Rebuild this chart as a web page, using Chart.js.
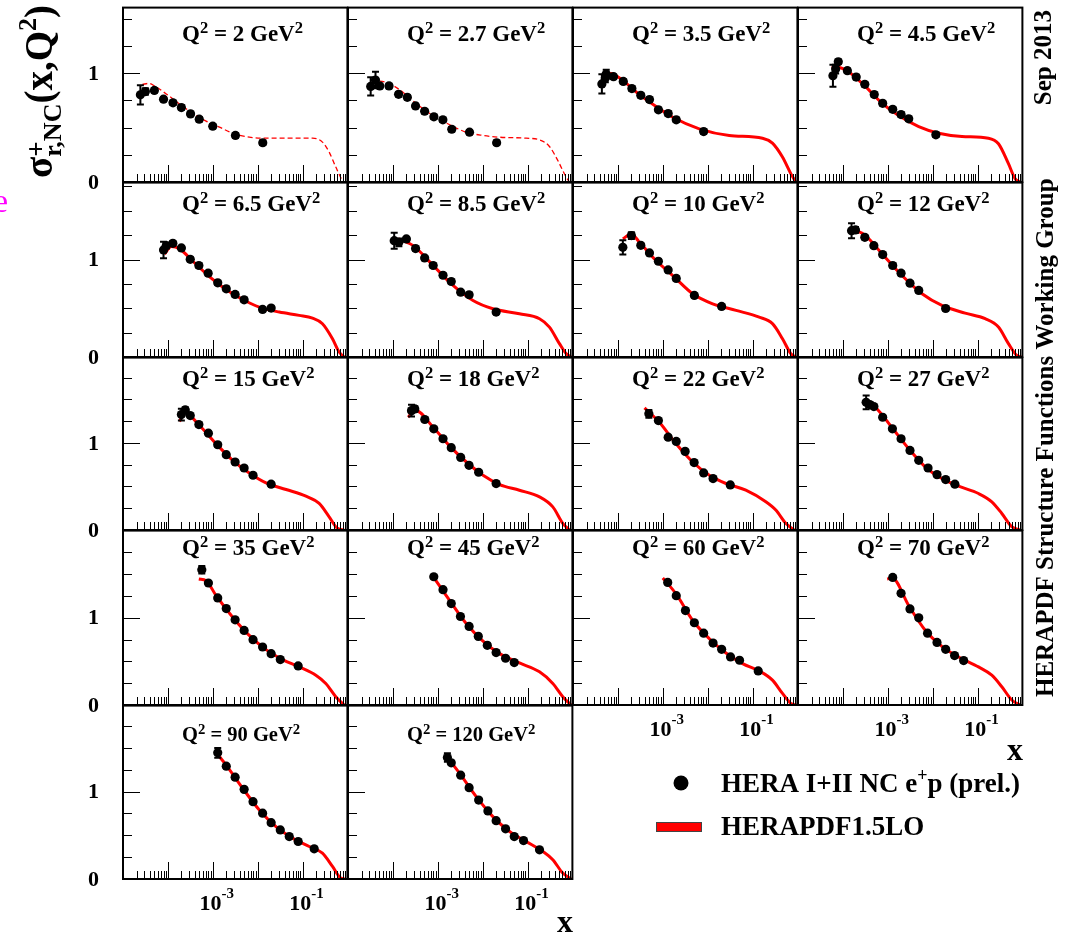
<!DOCTYPE html>
<html><head><meta charset="utf-8">
<script src="https://cdn.jsdelivr.net/npm/chart.js@4.4.0/dist/chart.umd.min.js"></script>
<style>
html,body{margin:0;padding:0;background:#fff;}
#wrap{position:relative;width:1066px;height:933px;overflow:hidden;background:#fff;}
#wrap canvas{position:absolute;}
</style></head><body><div id="wrap"></div>
<script>
// ---------------- DATA ----------------
const Q2_LABELS = ['2','2.7','3.5','4.5','6.5','8.5','10','12','15','18','22','27','35','45','60','70','90','120'];
const DASHED_PANELS = [0, 1];

const DATA_X = [
  [2.44e-5,3.15e-5,5.0e-5,8.0e-5,1.3e-4,2.0e-4,3.2e-4,5.0e-4,1.0e-3,3.2e-3,1.3e-2],
  [3.2e-5,4.1e-5,5.1e-5,8.2e-5,1.34e-4,2.1e-4,3.2e-4,5.1e-4,8.2e-4,1.3e-3,2.05e-3,5.1e-3,2.05e-2],
  [4.4e-5,5.25e-5,5.5e-5,8.0e-5,1.32e-4,2.05e-4,3.24e-4,5.06e-4,8.0e-4,1.32e-3,2.0e-3,8.15e-3],
  [6.0e-5,6.9e-5,7.9e-5,1.26e-4,1.98e-4,3.08e-4,5.0e-4,7.7e-4,1.29e-3,1.98e-3,2.93e-3,1.18e-2],
  [8.0e-5,9.2e-5,1.29e-4,2.0e-4,3.15e-4,4.9e-4,7.9e-4,1.29e-3,2.0e-3,3.15e-3,5.0e-3,1.29e-2,2.0e-2],
  [1.07e-4,1.36e-4,2.0e-4,3.2e-4,5.1e-4,7.9e-4,1.31e-3,2.0e-3,3.24e-3,5.0e-3,2.0e-2],
  [1.29e-4,2.0e-4,3.24e-4,5.06e-4,8.0e-4,1.32e-3,2.0e-3,5.06e-3,2.05e-2],
  [1.56e-4,1.91e-4,3.08e-4,4.9e-4,7.7e-4,1.29e-3,1.98e-3,3.13e-3,4.9e-3,1.95e-2],
  [2.0e-4,2.44e-4,3.15e-4,4.9e-4,8.0e-4,1.29e-3,2.0e-3,3.15e-3,5.0e-3,7.9e-3,2.0e-2],
  [2.6e-4,3.08e-4,5.14e-4,8.15e-4,1.31e-3,2.0e-3,3.24e-3,4.97e-3,8.15e-3,2.0e-2],
  [4.9e-4,8.0e-4,1.32e-3,2.0e-3,3.15e-3,5.0e-3,8.15e-3,1.32e-2,3.2e-2],
  [3.3e-4,3.98e-4,4.9e-4,7.7e-4,1.27e-3,1.98e-3,3.13e-3,4.9e-3,7.9e-3,1.25e-2,1.95e-2,3.13e-2],
  [5.7e-4,8.0e-4,1.29e-3,2.0e-3,3.15e-3,5.0e-3,7.9e-3,1.29e-2,2.0e-2,3.2e-2,8.0e-2],
  [8.15e-4,1.31e-3,2.0e-3,3.2e-3,5.0e-3,8.0e-3,1.27e-2,2.0e-2,3.24e-2,5.06e-2],
  [1.29e-3,2.0e-3,3.2e-3,5.06e-3,8.15e-3,1.32e-2,2.05e-2,3.24e-2,5.14e-2,0.134],
  [1.29e-3,1.98e-3,3.13e-3,4.9e-3,7.7e-3,1.25e-2,1.95e-2,3.08e-2,4.9e-2],
  [1.29e-3,2.0e-3,3.15e-3,5.0e-3,7.9e-3,1.29e-2,2.0e-2,3.2e-2,5.06e-2,8.0e-2,0.182],
  [1.64e-3,2.0e-3,3.24e-3,5.0e-3,8.15e-3,1.31e-2,2.0e-2,3.24e-2,5.06e-2,8.15e-2,0.185]
];
const DATA_Y = [
  [0.80,0.83,0.84,0.76,0.726,0.683,0.625,0.576,0.512,0.427,0.36],
  [0.877,0.936,0.881,0.881,0.804,0.777,0.698,0.649,0.598,0.570,0.484,0.457,0.360],
  [0.90,0.954,0.99,0.966,0.923,0.857,0.795,0.756,0.662,0.628,0.57,0.463],
  [0.975,1.036,1.103,1.021,0.963,0.896,0.802,0.722,0.667,0.619,0.58,0.433],
  [1.099,1.143,1.167,1.12,1.003,0.939,0.86,0.761,0.70,0.642,0.587,0.488,0.502],
  [1.194,1.177,1.212,1.113,1.017,0.939,0.839,0.775,0.665,0.639,0.461],
  [1.126,1.246,1.146,1.068,0.983,0.894,0.806,0.632,0.519],
  [1.297,1.304,1.228,1.143,1.051,0.939,0.86,0.758,0.683,0.498],
  [1.326,1.379,1.314,1.211,1.112,0.979,0.865,0.781,0.712,0.629,0.526],
  [1.371,1.39,1.269,1.162,1.048,0.945,0.834,0.743,0.663,0.533],
  [1.334,1.257,1.066,1.017,0.903,0.774,0.655,0.591,0.518],
  [1.466,1.44,1.417,1.295,1.162,1.048,0.914,0.80,0.712,0.636,0.579,0.526],
  [1.551,1.399,1.228,1.106,0.977,0.855,0.749,0.665,0.589,0.521,0.448],
  [1.471,1.323,1.163,1.015,0.901,0.787,0.684,0.601,0.536,0.487],
  [1.406,1.254,1.083,0.943,0.824,0.71,0.639,0.551,0.513,0.391],
  [1.463,1.281,1.102,1.0,0.824,0.718,0.639,0.567,0.509],
  [1.444,1.292,1.166,1.026,0.885,0.753,0.645,0.562,0.486,0.429,0.345],
  [1.391,1.33,1.189,1.045,0.904,0.779,0.668,0.574,0.486,0.44,0.334]
];
const DATA_ERR = [
  [0.088,0.03,0.02,0.02,0.02,0.02,0.02,0.02,0.02,0.02,0.02],
  [0.084,0.076,0.02,0.02,0.02,0.02,0.02,0.02,0.02,0.02,0.02,0.02,0.02],
  [0.088,0.04,0.04,0.02,0.02,0.02,0.02,0.02,0.02,0.02,0.02,0.02],
  [0.10,0.04,0.02,0.02,0.02,0.02,0.02,0.02,0.02,0.02,0.02,0.02],
  [0.085,0.03,0.02,0.02,0.02,0.02,0.02,0.02,0.02,0.02,0.02,0.02,0.02],
  [0.082,0.04,0.02,0.02,0.02,0.02,0.02,0.02,0.02,0.02,0.02],
  [0.073,0.034,0.02,0.02,0.02,0.02,0.02,0.02,0.02],
  [0.077,0.03,0.02,0.02,0.02,0.02,0.02,0.02,0.02,0.02],
  [0.067,0.03,0.02,0.02,0.02,0.02,0.02,0.02,0.02,0.02,0.02],
  [0.067,0.03,0.02,0.02,0.02,0.02,0.02,0.02,0.02,0.02],
  [0.044,0.02,0.02,0.02,0.02,0.02,0.02,0.02,0.02],
  [0.08,0.03,0.02,0.02,0.02,0.02,0.02,0.02,0.02,0.02,0.02,0.02],
  [0.044,0.02,0.02,0.02,0.02,0.02,0.02,0.02,0.02,0.02,0.02],
  [0.02,0.02,0.02,0.02,0.02,0.02,0.02,0.02,0.02,0.02],
  [0.02,0.02,0.02,0.02,0.02,0.02,0.02,0.02,0.02,0.02],
  [0.02,0.02,0.02,0.02,0.02,0.02,0.02,0.02,0.02],
  [0.057,0.02,0.02,0.02,0.02,0.02,0.02,0.02,0.02,0.02,0.02],
  [0.048,0.02,0.02,0.02,0.02,0.02,0.02,0.02,0.02,0.02,0.02]
];
// HERAPDF1.5LO curves
const CURVE_X = [
  [2.7e-5,3.8e-5,5.1e-5,9.2e-5,1.82e-4,3.6e-4,7.1e-4,1.41e-3,2.78e-3,6.5e-3,1.54e-2,5.1e-2,0.167,0.278,0.392,0.552,0.774,0.87],
  [3.36e-5,7.2e-5,1.43e-4,3.36e-4,7.9e-4,1.85e-3,4.3e-3,1.02e-2,2.39e-2,9.3e-2,0.185,0.308,0.472,0.723,0.857],
  [4.27e-5,7.1e-5,1.29e-4,3.03e-4,7.1e-4,1.67e-3,6.5e-3,3.03e-2,0.167,0.278,0.465,0.713,0.92],
  [5.6e-5,8.15e-5,1.29e-4,3.03e-4,7.1e-4,1.75e-3,4.9e-3,1.36e-2,4.5e-2,0.175,0.293,0.489,0.687,0.887],
  [8.45e-5,1.19e-4,1.82e-4,3.6e-4,8.4e-4,1.98e-3,4.65e-3,1.09e-2,3.03e-2,8.4e-2,0.167,0.278,0.465,0.655,0.845],
  [1.32e-4,2.83e-4,7.9e-4,2.19e-3,6.1e-3,1.69e-2,6.6e-2,0.185,0.308,0.514,0.723,0.933],
  [1.29e-4,1.99e-4,3.03e-4,7.1e-4,1.67e-3,4.65e-3,1.29e-2,4.3e-2,0.141,0.278,0.465,0.713,0.92],
  [1.48e-4,3.19e-4,7.5e-4,2.08e-3,5.8e-3,1.61e-2,5.3e-2,0.148,0.293,0.489,0.748,0.966],
  [1.82e-4,2.35e-4,5.06e-4,1.19e-3,2.78e-3,6.5e-3,1.54e-2,4.3e-2,0.119,0.235,0.392,0.6,0.845],
  [2.19e-4,3.08e-4,7.9e-4,1.85e-3,4.34e-3,1.02e-2,2.39e-2,6.6e-2,0.185,0.366,0.61,0.857],
  [3.92e-4,8.4e-4,1.98e-3,4.65e-3,1.09e-2,2.56e-2,7.1e-2,0.198,0.33,0.55,0.843],
  [2.93e-4,5.3e-4,1.25e-3,2.93e-3,6.9e-3,1.61e-2,3.78e-2,0.105,0.208,0.348,0.579,0.889],
  [4.89e-4,7.1e-4,1.19e-3,2.78e-3,6.5e-3,1.54e-2,3.6e-2,8.4e-2,0.198,0.33,0.55,0.845],
  [7.5e-4,1.85e-3,4.34e-3,1.02e-2,2.39e-2,6.6e-2,0.185,0.366,0.61,0.933],
  [1.0e-3,1.98e-3,4.65e-3,1.09e-2,2.56e-2,6.0e-2,0.141,0.278,0.465,0.713,0.95],
  [9.7e-4,1.25e-3,2.93e-3,6.9e-3,1.61e-2,3.78e-2,0.105,0.208,0.348,0.579,0.889],
  [1.23e-3,1.99e-3,4.65e-3,1.09e-2,2.56e-2,6.0e-2,0.141,0.278,0.465,0.713,0.92],
  [1.56e-3,3.08e-3,7.2e-3,1.69e-2,3.98e-2,9.3e-2,0.219,0.366,0.61,0.933]
];
const CURVE_Y = [
  [0.895,0.905,0.88,0.808,0.716,0.63,0.558,0.503,0.448,0.411,0.402,0.402,0.402,0.366,0.274,0.137,0.015,0],
  [0.93,0.914,0.845,0.717,0.61,0.525,0.457,0.427,0.411,0.402,0.387,0.326,0.198,0.046,0],
  [0.966,0.996,0.93,0.802,0.692,0.594,0.488,0.427,0.402,0.357,0.229,0.077,0],
  [1.051,1.051,1.015,0.884,0.731,0.61,0.509,0.448,0.418,0.402,0.351,0.168,0.031,0],
  [1.058,1.133,1.11,0.983,0.826,0.693,0.59,0.512,0.461,0.427,0.399,0.342,0.188,0.051,0],
  [1.212,1.143,0.939,0.734,0.58,0.495,0.444,0.393,0.307,0.137,0.035,0],
  [1.212,1.263,1.177,0.99,0.836,0.649,0.546,0.478,0.409,0.342,0.188,0.035,0],
  [1.324,1.246,1.058,0.836,0.649,0.529,0.45,0.393,0.307,0.137,0.017,0],
  [1.246,1.352,1.2,0.99,0.8,0.655,0.541,0.465,0.389,0.305,0.152,0.019,0],
  [1.295,1.379,1.181,0.963,0.781,0.629,0.522,0.457,0.381,0.266,0.077,0],
  [1.402,1.238,0.99,0.781,0.629,0.534,0.457,0.324,0.229,0.077,0],
  [1.486,1.409,1.174,0.934,0.723,0.591,0.503,0.419,0.324,0.19,0.038,0],
  [1.445,1.425,1.254,1.007,0.798,0.635,0.521,0.437,0.342,0.247,0.095,0],
  [1.49,1.197,0.932,0.733,0.589,0.482,0.38,0.247,0.095,0],
  [1.456,1.274,0.969,0.76,0.597,0.475,0.391,0.285,0.133,0.019,0],
  [1.445,1.456,1.14,0.855,0.673,0.551,0.437,0.342,0.209,0.057,0],
  [1.437,1.303,1.038,0.79,0.60,0.468,0.372,0.296,0.144,0.011,0],
  [1.406,1.209,0.942,0.714,0.543,0.429,0.315,0.22,0.068,0]
];
const Y_TICK_LABELS = [0, 1];
const X_TICK_LABELS = [1e-3, 1e-1];
const X_TICK_TEXT = [['10','-3'], ['10','-1']];
const ROW_YMAX = [1.6, 1.79, 1.98, 2.0, 1.985];

// ---------------- LAYOUT ----------------
const COL_LEFT = [123, 348, 573, 798];
const ROW_TOP = [7, 182, 357, 530, 705];
const ROW_BOTTOM = [182, 357, 530, 705, 879];
const PANEL_W = 225;
const TITLE_SIZE = [23, 23, 23, 23, 20.5];
const TITLE_BASE = [33, 28.5, 28.5, 24.5, 35];
const ML = 45, MR = 4, MT = 4, MB = 44;
const FONT = '"Liberation Serif","Times New Roman",Times,serif';
function fnt(sz){ return 'bold ' + sz + 'px ' + FONT; }

function richWidth(ctx, parts){
  let w = 0;
  for (const p of parts){ if (p.stack) continue; ctx.font = fnt(p.size); w += ctx.measureText(p.text).width; }
  return w;
}
function drawRich(ctx, parts, x, y, align){
  const w = richWidth(ctx, parts);
  let cx = align === 'center' ? x - w/2 : (align === 'right' ? x - w : x);
  ctx.textAlign = 'left'; ctx.textBaseline = 'alphabetic';
  for (const p of parts){
    ctx.font = fnt(p.size);
    ctx.fillStyle = p.color || '#000';
    ctx.fillText(p.text, cx, y + (p.dy || 0));
    if (!p.stack) cx += ctx.measureText(p.text).width;
  }
}

const wrap = document.getElementById('wrap');

function lastRowOfCol(c){ return c < 2 ? 4 : 3; }

for (let i = 0; i < Q2_LABELS.length; i++){
  const row = Math.floor(i / 4), col = i % 4;
  const left = COL_LEFT[col], top = ROW_TOP[row], h = ROW_BOTTOM[row] - ROW_TOP[row];
  const cv = document.createElement('canvas');
  cv.width = PANEL_W + ML + MR; cv.height = h + MT + MB;
  cv.style.left = (left - ML) + 'px'; cv.style.top = (top - MT) + 'px';
  cv.style.width = cv.width + 'px'; cv.style.height = cv.height + 'px';
  wrap.appendChild(cv);

  const pts = DATA_X[i].map((x, j) => ({x: x, y: DATA_Y[i][j]}));
  const cur = CURVE_X[i].map((x, j) => ({x: x, y: CURVE_Y[i][j]}));
  const dashed = DASHED_PANELS.includes(i);
  const errs = DATA_ERR[i];

  const panelPlugin = {
    id: 'panel' + i,
    afterDatasetsDraw(chart){
      const ctx = chart.ctx, ys = chart.scales.y;
      const meta = chart.getDatasetMeta(0);
      ctx.save();
      ctx.strokeStyle = '#000'; ctx.lineWidth = 2;
      meta.data.forEach((el, j) => {
        const e = errs[j]; if (!e) return;
        const yt = ys.getPixelForValue(DATA_Y[i][j] + e), yb = ys.getPixelForValue(DATA_Y[i][j] - e);
        ctx.beginPath();
        ctx.moveTo(el.x, yt); ctx.lineTo(el.x, yb);
        ctx.moveTo(el.x - 3.5, yt); ctx.lineTo(el.x + 3.5, yt);
        ctx.moveTo(el.x - 3.5, yb); ctx.lineTo(el.x + 3.5, yb);
        ctx.stroke();
      });
      ctx.restore();
    },
    afterDraw(chart){
      const ctx = chart.ctx, a = chart.chartArea, xs = chart.scales.x, ys = chart.scales.y;
      ctx.save();
      // ticks
      ctx.strokeStyle = '#000'; ctx.lineWidth = 1;
      ctx.beginPath();
      for (let d = -5; d <= 0; d++){
        for (let m = 1; m <= 9; m++){
          const v = m * Math.pow(10, d);
          if (v <= 1e-5 * 1.0001 || v >= 0.9999) continue;
          const px = Math.round(xs.getPixelForValue(v)) + 0.5;
          const len = (m === 1) ? 17 : 8;
          ctx.moveTo(px, a.bottom); ctx.lineTo(px, a.bottom - len);
        }
      }
      for (let v = 0.25; v < ROW_YMAX[row] - 0.01; v += 0.25){
        const py = Math.round(ys.getPixelForValue(v)) + 0.5;
        const len = Math.abs(v - 1) < 1e-6 ? 17 : 9;
        ctx.moveTo(a.left, py); ctx.lineTo(a.left + len, py);
      }
      ctx.stroke();
      // frame
      ctx.lineWidth = 2;
      ctx.strokeRect(a.left, a.top, a.right - a.left, a.bottom - a.top);
      // title
      const ts = TITLE_SIZE[row];
      drawRich(ctx, [
        {text:'Q', size:ts}, {text:'2', size:ts*0.72, dy:-ts*0.34},
        {text:' = ' + Q2_LABELS[i] + ' GeV', size:ts}, {text:'2', size:ts*0.72, dy:-ts*0.34}
      ], a.left + 59, a.top + TITLE_BASE[row], 'left');
      // y labels
      if (col === 0){
        ctx.fillStyle = '#000'; ctx.font = fnt(22);
        ctx.textAlign = 'right'; ctx.textBaseline = 'middle';
        Y_TICK_LABELS.forEach(v => ctx.fillText(String(v), a.left - 24, ys.getPixelForValue(v) + 1));
      }
      // x labels
      if (row === lastRowOfCol(col)){
        X_TICK_LABELS.forEach((v, k) => {
          const px = xs.getPixelForValue(v);
          drawRich(ctx, [{text:X_TICK_TEXT[k][0], size:22}, {text:X_TICK_TEXT[k][1], size:15, dy:-12}], px + 4, a.bottom + 31, 'center');
        });
      }
      ctx.restore();
    }
  };

  new Chart(cv, {
    type: 'scatter',
    data: { datasets: [
      { type:'scatter', data: pts, pointRadius: 4.6, pointHoverRadius: 4.6, pointBackgroundColor:'#000', pointBorderColor:'#000', pointBorderWidth:0, showLine:false, clip: 6 },
      { type:'line', data: cur, borderColor:'#ff0000', borderWidth: dashed ? 1.3 : 3, borderDash: dashed ? [5,3] : [], pointRadius:0, cubicInterpolationMode:'monotone', fill:false, clip: 0 }
    ]},
    options: {
      responsive:false, animation:false, devicePixelRatio:1, events:[],
      layout:{ padding:{ left:ML, right:MR, top:MT, bottom:MB } },
      scales:{
        x:{ type:'logarithmic', min:1e-5, max:1, display:false },
        y:{ type:'linear', min:0, max:ROW_YMAX[row], display:false }
      },
      plugins:{ legend:{display:false}, tooltip:{enabled:false} }
    },
    plugins:[panelPlugin]
  });
}

// ---------------- OVERLAY TEXT ----------------
const ov = document.createElement('canvas');
ov.width = 1066; ov.height = 933; ov.style.left = '0px'; ov.style.top = '0px'; ov.style.zIndex = 10;
wrap.appendChild(ov);
const c = ov.getContext('2d');
c.fillStyle = '#000';

// y-axis title
c.save();
c.translate(52, 178); c.rotate(-Math.PI/2);
drawRich(c, [
  {text:'\u03C3', size:39},
  {text:'+', size:27, dy:-7, stack:true},
  {text:'r,NC', size:26, dy:9},
  {text:'(x,Q', size:39}, {text:'2', size:26, dy:-16}, {text:')', size:39}
], 0, 0, 'left');
c.restore();

// magenta fragment at left edge
c.save();
c.fillStyle = '#ff00ff'; c.font = '34px ' + FONT; c.textAlign = 'left'; c.textBaseline = 'alphabetic';
c.fillText('e', -7, 212);
c.restore();

// right side texts
c.save();
c.translate(1051, 10); c.rotate(-Math.PI/2);
c.font = fnt(25); c.textAlign = 'right'; c.textBaseline = 'alphabetic'; c.fillStyle = '#000';
c.fillText('Sep 2013', 0, 0);
c.restore();
c.save();
c.translate(1053, 697); c.rotate(-Math.PI/2);
c.font = fnt(25); c.textAlign = 'left'; c.textBaseline = 'alphabetic'; c.fillStyle = '#000';
c.fillText('HERAPDF Structure Functions Working Group', 0, 0);
c.restore();

// x axis titles
c.font = fnt(32); c.textAlign = 'right'; c.textBaseline = 'alphabetic';
c.fillText('x', 1023, 760);
c.fillText('x', 573, 932);

// legend
c.beginPath(); c.arc(681, 783, 7.5, 0, Math.PI*2); c.fillStyle = '#000'; c.fill();
drawRich(c, [{text:'HERA I+II NC e', size:27}, {text:'+', size:18, dy:-11}, {text:'p (prel.)', size:27}], 721, 792, 'left');
c.fillStyle = '#ff0000'; c.fillRect(656, 822, 46, 10);
c.strokeStyle = '#444'; c.lineWidth = 1; c.strokeRect(656.5, 822.5, 45, 9);
drawRich(c, [{text:'HERAPDF1.5LO', size:27}], 721, 835, 'left');
</script></body></html>
